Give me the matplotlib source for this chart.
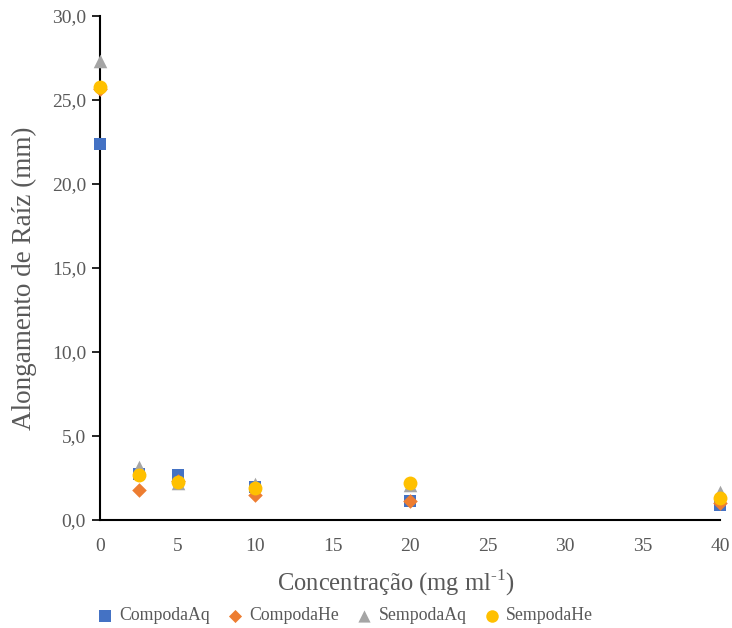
import matplotlib
matplotlib.use("Agg")
import matplotlib.pyplot as plt
from matplotlib.ticker import FuncFormatter, MultipleLocator

plt.rcParams['font.family'] = ['Liberation Serif', 'DejaVu Serif']
plt.rcParams['mathtext.fontset'] = 'custom'
plt.rcParams['mathtext.rm'] = 'Liberation Serif'

conc = [0, 2.5, 5, 10, 20, 40]
compoda_aq = [22.4, 2.74, 2.68, 1.98, 1.15, 0.89]
compoda_he = [25.65, 1.77, 2.3, 1.49, 1.15, 1.0]
sempoda_aq = [27.3, 3.15, 2.2, 2.14, 2.1, 1.68]
sempoda_he = [25.8, 2.68, 2.28, 1.92, 2.22, 1.29]

series = [
    ("CompodaAq", compoda_aq, "s", "#4472C4", 85),
    ("CompodaHe", compoda_he, "D", "#ED7D31", 55),
    ("SempodaAq", sempoda_aq, "^", "#A5A5A5", 95),
    ("SempodaHe", sempoda_he, "o", "#FFC000", 100),
]

W, H = 732, 628
fig = plt.figure(figsize=(W / 100, H / 100), dpi=100)
ax = fig.add_axes([100 / W, 108 / H, 620 / W, 504 / H])

for name, vals, m, c, s in series:
    ax.scatter(conc, vals, marker=m, color=c, s=s, linewidths=0, label=name,
               zorder=3, clip_on=False)

ax.set_xlim(0, 40)
ax.set_ylim(0, 30)
ax.xaxis.set_major_locator(MultipleLocator(5))
ax.yaxis.set_major_locator(MultipleLocator(5))
ax.yaxis.set_major_formatter(FuncFormatter(lambda v, p: f"{v:.1f}".replace(".", ",")))

for side in ("top", "right"):
    ax.spines[side].set_visible(False)
for side in ("left", "bottom"):
    ax.spines[side].set_linewidth(1.5)
    ax.spines[side].set_color("black")

grey = "#595959"
ax.tick_params(axis="y", direction="out", length=6, width=1.2, colors="black",
               labelcolor=grey, labelsize=14, pad=4)
ax.tick_params(axis="x", length=0, labelcolor=grey, labelsize=14, pad=13)

ax.set_xlabel("Concentração (mg ml$^{\\mathregular{\\text{-}1}}$)", fontsize=17.7,
              color=grey)
ax.xaxis.set_label_coords((396 - 100) / 620, -47 / 504)
ax.set_ylabel("Alongamento de Raíz (mm)", fontsize=19.5, color=grey)
ax.yaxis.set_label_coords(-63 / 620, (520 - 278) / 504)

leg = fig.legend(*ax.get_legend_handles_labels(), loc="center left",
                 bbox_to_anchor=(96 / W, 1 - 616 / H), ncol=4, frameon=False,
                 fontsize=12.8, handlelength=1.0, handletextpad=0.3,
                 columnspacing=0.92, markerscale=0.9, labelcolor=grey,
                 borderpad=0, borderaxespad=0)

fig.savefig("out.png", dpi=100)
